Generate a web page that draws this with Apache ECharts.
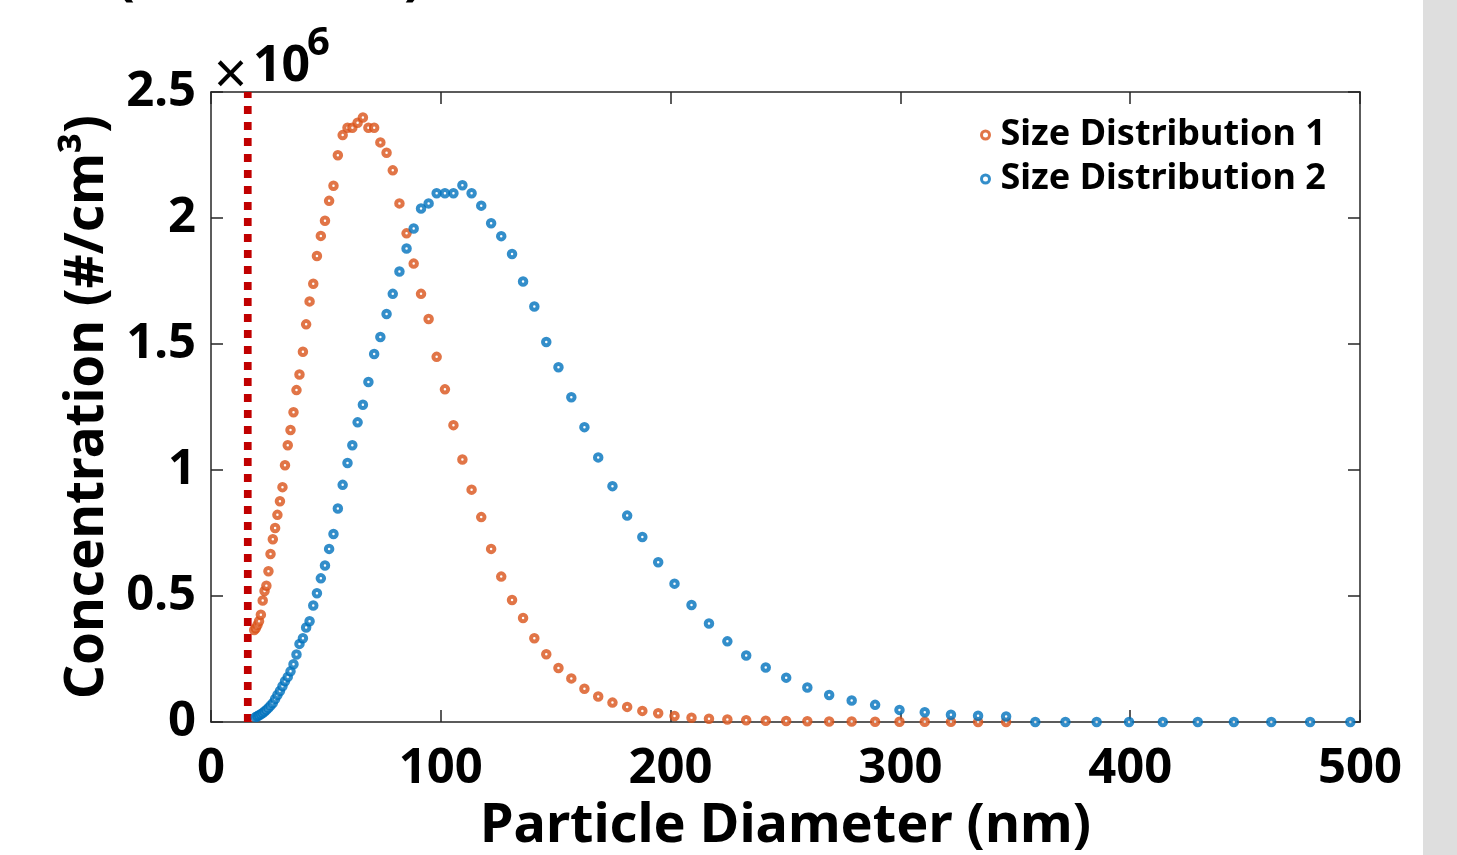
<!DOCTYPE html>
<html><head><meta charset="utf-8">
<script src="https://cdn.jsdelivr.net/npm/echarts@6/dist/echarts.min.js"></script>
<style>html,body{margin:0;padding:0;background:#fff;overflow:hidden}#c{width:1457px;height:855px}</style>
</head><body><div id="c"></div>
<script>
// Particle diameters (nm), SMPS channels
const diameters = [18.8,19.5,20.2,20.9,21.7,22.5,23.3,24.1,25.0,25.9,26.9,27.9,28.9,30.0,31.1,32.2,33.4,34.6,35.9,37.2,38.5,40.0,41.4,42.9,44.5,46.1,47.8,49.6,51.4,53.3,55.2,57.3,59.4,61.5,63.8,66.1,68.5,71.0,73.7,76.4,79.1,82.0,85.1,88.2,91.4,94.7,98.2,101.8,105.5,109.4,113.4,117.6,121.9,126.3,131.0,135.8,140.7,145.9,151.2,156.8,162.5,168.5,174.7,181.1,187.7,194.6,201.7,209.1,216.7,224.7,232.9,241.4,250.3,259.5,269.0,278.8,289.0,299.6,310.6,322.0,333.8,346.0,358.7,371.8,385.4,399.5,414.2,429.4,445.1,461.4,478.3,495.8];
// Concentrations in units of 10^6 #/cm^3 (null = no data)
const sizeDist1 = [0.365,0.372,0.385,0.400,0.426,0.482,0.520,0.541,0.598,0.667,0.725,0.770,0.822,0.876,0.932,1.019,1.098,1.159,1.229,1.317,1.379,1.469,1.578,1.669,1.739,1.849,1.929,1.989,2.068,2.128,2.249,2.329,2.358,2.358,2.378,2.399,2.358,2.358,2.300,2.259,2.189,2.058,1.939,1.819,1.699,1.599,1.449,1.320,1.178,1.042,0.922,0.813,0.687,0.577,0.484,0.413,0.332,0.269,0.214,0.173,0.132,0.101,0.077,0.060,0.044,0.035,0.024,0.017,0.013,0.010,0.007,0.005,0.004,0.003,0.002,0.002,0.001,0.001,0.001,0.0005,0.0003,0.0002,null,null,null,null,null,null,null,null,null,null];
const sizeDist2 = [null,0.020,0.023,0.027,0.031,0.036,0.042,0.048,0.056,0.065,0.075,0.091,0.107,0.123,0.142,0.162,0.179,0.201,0.229,0.268,0.310,0.332,0.375,0.400,0.462,0.511,0.570,0.621,0.687,0.746,0.847,0.941,1.028,1.098,1.189,1.259,1.349,1.460,1.528,1.619,1.699,1.788,1.879,1.958,2.038,2.058,2.098,2.098,2.098,2.130,2.098,2.049,1.979,1.928,1.857,1.748,1.649,1.508,1.408,1.289,1.170,1.050,0.936,0.819,0.734,0.634,0.549,0.464,0.391,0.320,0.264,0.216,0.176,0.137,0.107,0.085,0.068,0.048,0.039,0.029,0.025,0.022,0,0,0,0,0,0,0,0,0,0];
const cutoffDiameter = 16;
const seriesNames = ['Size Distribution 1','Size Distribution 2'];
const xRange = [0, 500], xStep = 100;
const yRange = [0, 2.5], yStep = 0.5;

function pairs(xs, ys){ const out=[]; xs.forEach((x,i)=>{ if(ys[i]!==null) out.push([x, ys[i]]); }); return out; }

const FONT = 'Noto Sans';
const AX = '#262626';
const chart = echarts.init(document.getElementById('c'), null, {renderer:'canvas'});
const axisCommon = {
  axisLine:{show:true, onZero:false, lineStyle:{color:AX, width:1.5}},
  axisTick:{show:true, inside:true, length:12, lineStyle:{color:AX, width:1.5}},
  splitLine:{show:false}
};
chart.setOption({
  backgroundColor:'#fff',
  animation:false,
  grid:{left:211, right:97, top:92, bottom:133, containLabel:false, outerBoundsMode:'none'},
  xAxis:[
    Object.assign({type:'value', position:'bottom', min:xRange[0], max:xRange[1], interval:xStep,
      name:'Particle Diameter (nm)', nameLocation:'middle', nameGap:78,
      nameTextStyle:{fontFamily:FONT, fontWeight:'bold', fontSize:54, color:'#000'},
      axisLabel:{fontFamily:FONT, fontWeight:'bold', fontSize:49, color:'#000', margin:23}}, axisCommon),
    Object.assign({type:'value', position:'top', min:xRange[0], max:xRange[1], interval:xStep,
      axisLabel:{show:false}}, axisCommon)
  ],
  yAxis:[
    Object.assign({type:'value', position:'left', min:yRange[0], max:yRange[1], interval:yStep,
      name:'Concentration (#/cm³)', nameLocation:'middle', nameGap:97, nameRotate:90,
      nameTextStyle:{fontFamily:FONT, fontWeight:'bold', fontSize:53, color:'#000'},
      axisLabel:{fontFamily:FONT, fontWeight:'bold', fontSize:49, color:'#000', margin:15}}, axisCommon),
    Object.assign({type:'value', position:'right', min:yRange[0], max:yRange[1], interval:yStep,
      axisLabel:{show:false}}, axisCommon)
  ],
  legend:{
    data:seriesNames, orient:'vertical', left:975, top:112, itemGap:8,
    itemWidth:20, itemHeight:8, icon:'circle',
    itemStyle:{borderWidth:3},
    textStyle:{fontFamily:FONT, fontWeight:'bold', fontSize:36, color:'#000'}
  },
  series:[
    {type:'line', name:'cutoff', data:[[cutoffDiameter, yRange[0]],[cutoffDiameter, yRange[1]]],
      symbol:'none', silent:true, lineStyle:{color:'#C00000', width:7.7, type:[8,8], cap:'butt'}, z:1},
    {type:'scatter', name:seriesNames[0], data:pairs(diameters, sizeDist1), symbol:'circle', symbolSize:6.5,
      itemStyle:{color:'#fff', borderColor:'#D95319', borderWidth:4}, z:2},
    {type:'scatter', name:seriesNames[1], data:pairs(diameters, sizeDist2), symbol:'circle', symbolSize:6.5,
      itemStyle:{color:'#fff', borderColor:'#0072BD', borderWidth:4}, z:3}
  ],
  graphic:[
    {type:'rect', right:0, top:0, shape:{width:34, height:855}, style:{fill:'#dedede'}, z:-1},
    {type:'text', left:214, top:48, style:{text:'×', font:'normal 58px "'+FONT+'"', fill:'#000'}},
    {type:'text', left:253, top:42, style:{text:'10', font:'bold 50px "'+FONT+'"', fill:'#000'}},
    {type:'text', left:307, top:24, style:{text:'6', font:'bold 40px "'+FONT+'"', fill:'#000'}},
    {type:'text', left:116, top:-50, style:{text:'(', font:'bold 56px "'+FONT+'"', fill:'#000'}},
    {type:'text', left:404, top:-50, style:{text:')', font:'bold 56px "'+FONT+'"', fill:'#000'}}
  ]
});
</script></body></html>
